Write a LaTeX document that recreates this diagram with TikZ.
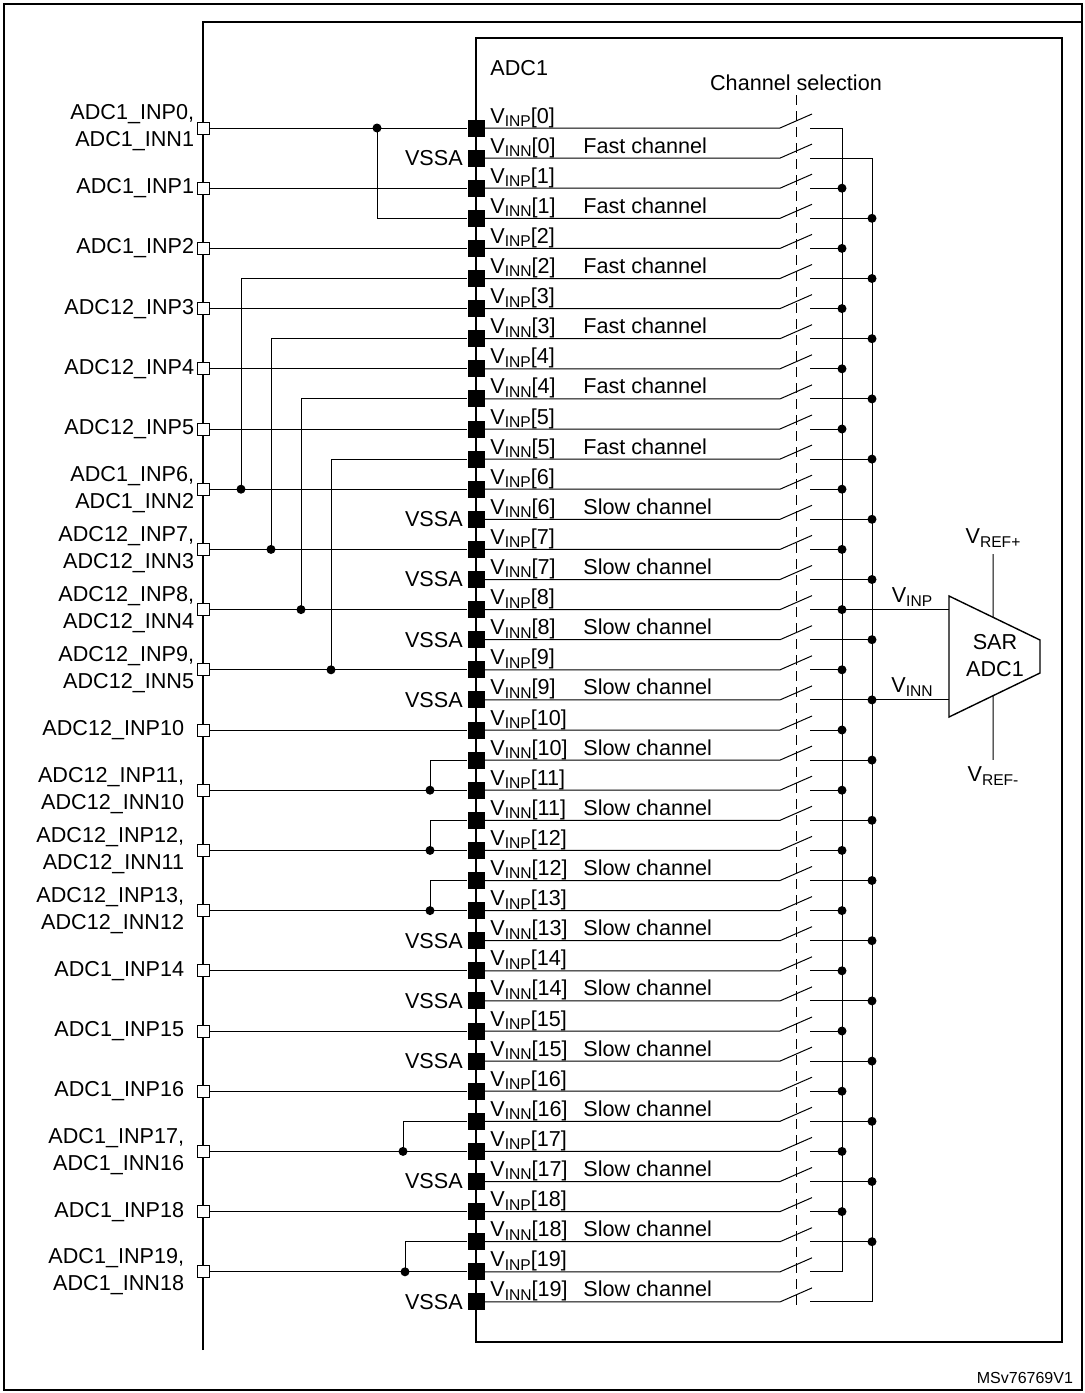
\documentclass[tikz,border=0pt]{standalone}
\usepackage{fontspec}
\setmainfont{Liberation Sans}
\usetikzlibrary{calc}
\newcommand\vsub[1]{V\raisebox{-0.3ex}{\fontsize{7.8}{8}\selectfont #1}}
\newcommand\rowy[1]{128+30.1*#1}
\begin{document}
\begin{tikzpicture}[x=0.5pt,y=-0.5pt,
                    font=\fontsize{10.8}{13.5}\selectfont,
                    pin node/.style={rectangle,fill=black,minimum size=8.5pt,inner sep=0pt},
                    pad node/.style={rectangle,draw,fill=white,line width=0.5pt,minimum size=6pt,inner sep=0pt},
                    wire/.style={line width=0.5pt},
                    dot/.style={circle,fill=black,minimum size=4.5pt,inner sep=0pt},
                    lbl/.style={anchor=base west,inner sep=0pt}
                   ]
  \useasboundingbox (0,0) rectangle (1085,1393);
  \draw[line width=0.6pt] (4,4) rectangle (1082,1390);
  \draw[line width=1pt] (203,1350) -- (203,22) -- (1082,22);
  \draw[line width=1pt] (476,38) rectangle (1062,1342);
  \node[lbl] (adc) at (490,75) {ADC1};
  \node (chsel) at (796,83) {Channel selection};
  \draw[wire,dash pattern=on 5pt off 3pt] (796,95) -- (796,1305);

  % pins of ADC1
  \foreach \i in {0,...,39}
    \node[pin node] (p\i) at (476,{\rowy{\i}}) {};

  % channel labels
  \foreach \k in {0,...,19}{
    \pgfmathtruncatemacro\a{2*\k}
    \pgfmathtruncatemacro\b{2*\k+1}
    \node[lbl] (lp\k) at (490,{\rowy{\a}-5}) {\vsub{INP}[\k]};
    \node[lbl] (ln\k) at (490,{\rowy{\b}-5}) {\vsub{INN}[\k]};
    \ifnum\k<6
      \node[lbl] (ch\k) at (583,{\rowy{\b}-5}) {Fast channel};
    \else
      \node[lbl] (ch\k) at (583,{\rowy{\b}-5}) {Slow channel};
    \fi
  }

  % VSSA
  \foreach \i in {1,13,15,17,19,27,29,31,35,39}
    \node[anchor=east,inner sep=0pt] (vssa\i) at ([xshift=-2pt]p\i.west) {VSSA};

  % switches and buses
  \foreach \i in {0,...,39}{
    \pgfmathtruncatemacro\odd{mod(\i,2)}
    \pgfmathsetmacro\bx{\odd==0 ? 842 : 872}
    \coordinate (s\i) at (780,{\rowy{\i}});
    \coordinate (t\i) at (810,{\rowy{\i}});
    \coordinate (b\i) at (\bx,{\rowy{\i}});
    \draw[wire] (p\i.east) -- (s\i) -- ++(32,-14);
    \draw[wire] (t\i) -- (b\i);
  }
  \foreach \i in {2,...,37}
    \node[dot] at (b\i) {};
  \draw[wire] (b0) -- (b38);
  \draw[wire] (b1) -- (b39);

  % left pads
  \foreach \r/\g/\t in {0/1/{ADC1\_INP0,\\ADC1\_INN1},
                        2/1/{ADC1\_INP1},
                        4/1/{ADC1\_INP2},
                        6/1/{ADC12\_INP3},
                        8/1/{ADC12\_INP4},
                        10/1/{ADC12\_INP5},
                        12/1/{ADC1\_INP6,\\ADC1\_INN2},
                        14/1/{ADC12\_INP7,\\ADC12\_INN3},
                        16/1/{ADC12\_INP8,\\ADC12\_INN4},
                        18/1/{ADC12\_INP9,\\ADC12\_INN5},
                        20/6/{ADC12\_INP10},
                        22/6/{ADC12\_INP11,\\ADC12\_INN10},
                        24/6/{ADC12\_INP12,\\ADC12\_INN11},
                        26/6/{ADC12\_INP13,\\ADC12\_INN12},
                        28/6/{ADC1\_INP14},
                        30/6/{ADC1\_INP15},
                        32/6/{ADC1\_INP16},
                        34/6/{ADC1\_INP17,\\ADC1\_INN16},
                        36/6/{ADC1\_INP18},
                        38/6/{ADC1\_INP19,\\ADC1\_INN18}}{
    \node[pad node] (l\r) at (203,{\rowy{\r}}) {};
    \node[anchor=east,align=right,inner sep=0pt] (n\r) at ([xshift=-\g pt]l\r.west) {\t};
    \draw[wire] (l\r.east) -- (p\r.west);
  }

  % shared inputs
  \foreach \x/\a/\b in {377/0/3,241/12/5,271/14/7,301/16/9,331/18/11,
                        430/22/21,430/24/23,430/26/25,403/34/33,405/38/37}{
    \node[dot] (j\a) at (\x,{\rowy{\a}}) {};
    \draw[wire] (j\a.center) |- (p\b.west);
  }

  % SAR ADC
  \coordinate (sa) at (949,596);
  \coordinate (sb) at (1040,640);
  \coordinate (sc) at (1040,673);
  \coordinate (sd) at (949,717);
  \draw[line width=0.7pt] (sa) -- (sb) -- (sc) -- (sd) -- cycle;
  \node[align=center] (sar) at (995,656) {SAR\\ADC1};
  \coordinate (inp) at (949,{\rowy{16}});
  \coordinate (inn) at (949,{\rowy{19}});
  \draw[wire] (b16) -- (inp);
  \draw[wire] (b19) -- (inn);
  \node (vinp) at (912,597) {\vsub{INP}};
  \node (vinn) at (912,687) {\vsub{INN}};
  \coordinate (rp) at ($(sa)!0.4835!(sb)$);
  \coordinate (rm) at ($(sd)!0.4835!(sc)$);
  \node (vrefp) at (993,538) {\vsub{REF+}};
  \node (vrefm) at (993,776) {\vsub{REF-}};
  \draw[wire] (vrefp.south) -- (rp);
  \draw[wire] (rm) -- (vrefm.north);

  \node[anchor=east,font=\fontsize{8}{9}\selectfont] (ref) at (1080,1378) {MSv76769V1};
\end{tikzpicture}
\end{document}
